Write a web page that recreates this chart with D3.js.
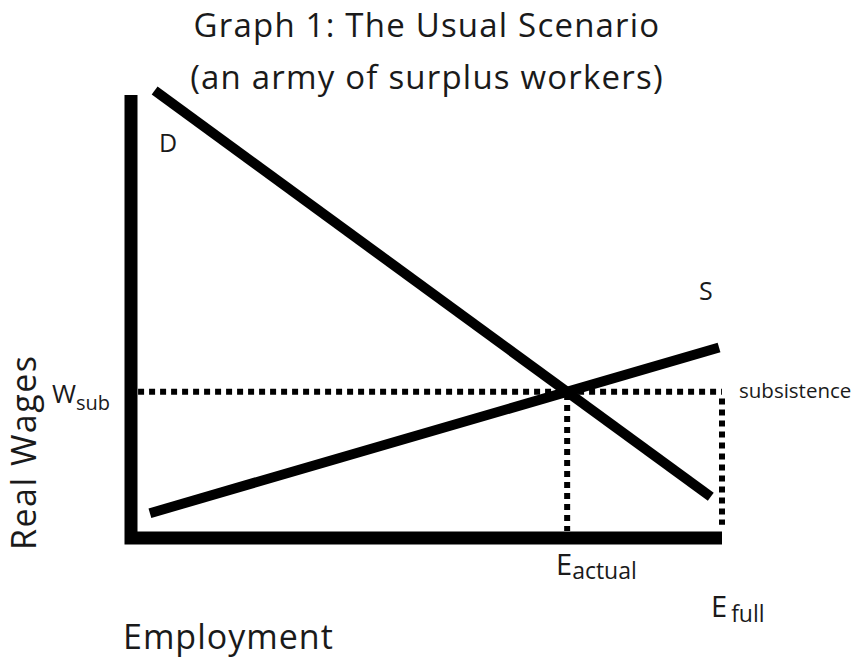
<!DOCTYPE html>
<html><head><meta charset="utf-8">
<script src="https://cdn.jsdelivr.net/npm/d3@7"></script>
<style>body{margin:0;background:#fff}svg{display:block}text{font-family:"Open Sans",Lato,sans-serif;fill:#1a1a1a}</style>
</head><body><svg id="c" width="860" height="661"></svg>
<script>
// Data (employment 0..100, real wage 0..100)
const titleLines = ["Graph 1: The Usual Scenario", "(an army of surplus workers)"];
const demand = [[4.0, 101.0], [98.1, 9.3]];
const supply = [[3.2, 5.6], [99.5, 43.0]];
const wSub = 33.0;
const eActual = 73.8;
const eFull = 100;
const axisExtent = {xMax: 100, yMax: 100};

const svg = d3.select("#c");
const x = d3.scaleLinear().domain([0, 100]).range([131, 722]);
const y = d3.scaleLinear().domain([0, 100]).range([538, 95]);
const line = d3.line().x(d => x(d[0])).y(d => y(d[1]));

// title
svg.selectAll("text.title").data(titleLines).join("text")
  .attr("x", 427).attr("y", (d, i) => 37 + i * 52)
  .attr("text-anchor", "middle").attr("font-size", 33).attr("letter-spacing", 1.2).text(d => d);

// axes (L shape)
svg.append("path").attr("d", line([[0, axisExtent.yMax], [0, 0], [axisExtent.xMax, 0]]))
  .attr("fill", "none").attr("stroke", "#000").attr("stroke-width", 13).attr("stroke-linejoin", "miter");

// dotted guides
const dots = {fill: "none", stroke: "#000", "stroke-width": 6, "stroke-dasharray": "6,5"};
function dotted(pts) {
  const p = svg.append("path").attr("d", line(pts));
  Object.entries(dots).forEach(([k, v]) => p.attr(k, v));
}
dotted([[1.2, wSub], [eFull, wSub]]);
dotted([[eActual, wSub - 0.5], [eActual, 1.6]]);
dotted([[eFull, wSub - 1.5], [eFull, 3]]);

// curves
svg.append("path").attr("d", line(demand)).attr("fill", "none").attr("stroke", "#000").attr("stroke-width", 10);
svg.append("path").attr("d", line(supply)).attr("fill", "none").attr("stroke", "#000").attr("stroke-width", 10);

// labels
svg.append("text").attr("x", 159).attr("y", 152).attr("font-size", 25).text("D");
svg.append("text").attr("x", 699).attr("y", 300).attr("font-size", 25).text("S");
svg.append("text").attr("x", 739).attr("y", 398).attr("font-size", 20.5).text("subsistence");

const w = svg.append("text").attr("x", 52).attr("y", 403).attr("font-size", 26);
w.append("tspan").text("W");
w.append("tspan").attr("dy", 7).attr("font-size", 20).text("sub");

const ea = svg.append("text").attr("x", 556).attr("y", 575).attr("font-size", 29);
ea.append("tspan").text("E");
ea.append("tspan").attr("dy", 4).attr("font-size", 23).text("actual");

const ef = svg.append("text").attr("x", 711).attr("y", 617).attr("font-size", 29);
ef.append("tspan").text("E");
ef.append("tspan").attr("dx", 4).attr("dy", 5).attr("font-size", 23).text("full");

svg.append("text").attr("transform", "translate(36,550) rotate(-90)").attr("font-size", 34).attr("letter-spacing", 1.5).text("Real Wages");
svg.append("text").attr("x", 123).attr("y", 649).attr("font-size", 34).attr("letter-spacing", 1).text("Employment");
</script></body></html>
